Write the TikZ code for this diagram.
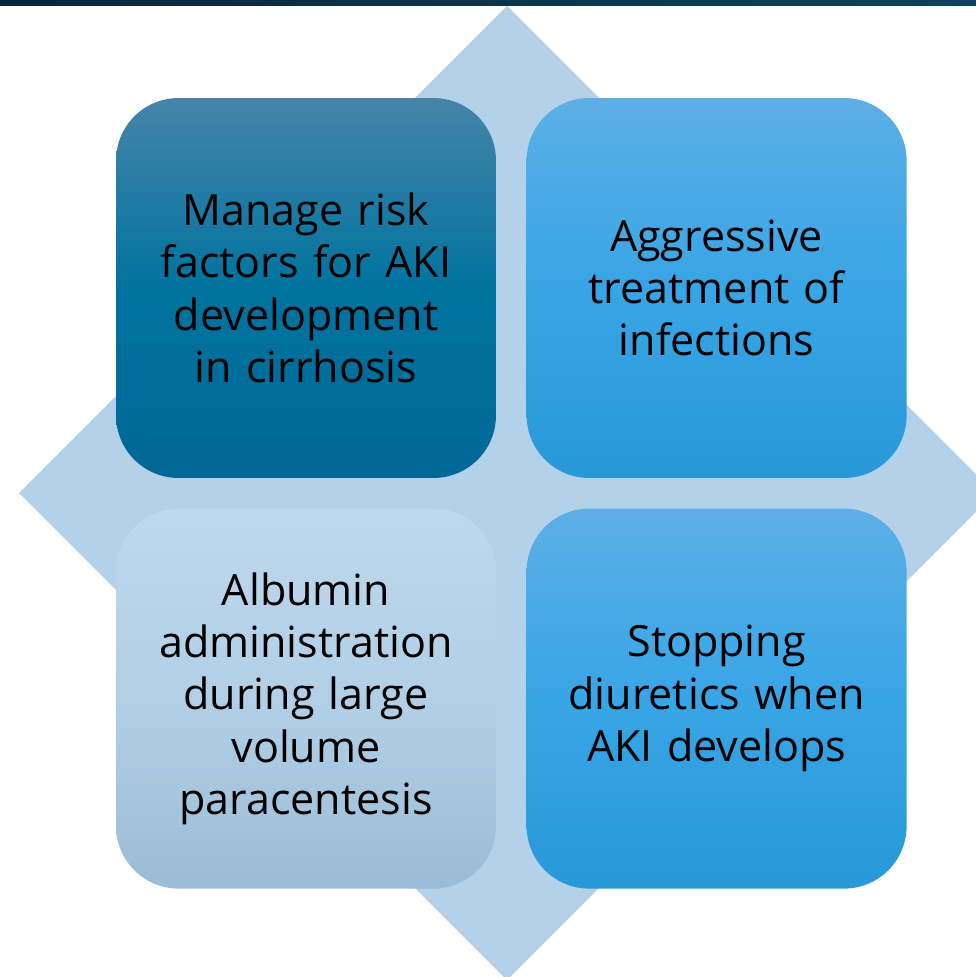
\documentclass[tikz,border=0pt]{standalone}
\usepackage{fontspec}
\setmainfont{Open Sans}
\usetikzlibrary{positioning}

\tikzset{
  card/.style={rectangle,rounded corners=1.25cm,minimum width=7.6cm,minimum height=7.6cm,
    text width=6.6cm,align=center,inner sep=0pt,
    font=\fontsize{24.5}{29.8}\selectfont},
}

\begin{document}
\begin{tikzpicture}[x=0.02cm,y=-0.02cm]

\definecolor{barl}{RGB}{9,38,58}
\definecolor{barr}{RGB}{14,66,94}
\definecolor{rhomb}{RGB}{179,209,232}
\definecolor{deept}{RGB}{70,132,168}
\definecolor{deepm}{RGB}{0,115,159}
\definecolor{deepb}{RGB}{0,103,150}
\definecolor{skyt}{RGB}{92,175,229}
\definecolor{skym}{RGB}{56,165,230}
\definecolor{skyb}{RGB}{40,152,216}
\definecolor{palet}{RGB}{190,216,237}
\definecolor{palem}{RGB}{178,207,230}
\definecolor{paleb}{RGB}{155,188,214}

\useasboundingbox (0,0) rectangle (976,977);

% strip along the top edge
\shade[left color=barl,right color=barr](0,0) rectangle (976,5);

% diamond behind the cards
\fill[rhomb](507,6)--(995,493)--(507,980)--(19,493)--cycle;

\node[card,top color=deept,bottom color=deepb,middle color=deepm] (risk) at (306,288)
  {Manage risk\\factors for AKI\\development\\in cirrhosis};
\node[card,top color=skyt,bottom color=skyb,middle color=skym,right=0.6cm of risk] (infect)
  {Aggressive\\treatment of\\infections};
\node[card,top color=palet,bottom color=paleb,middle color=palem,below=0.6cm of risk] (albumin)
  {Albumin\\administration\\during large\\volume\\paracentesis};
\node[card,top color=skyt,bottom color=skyb,middle color=skym,below=0.6cm of infect] (diuret)
  {Stopping\\diuretics when\\AKI develops};

\end{tikzpicture}
\end{document}
